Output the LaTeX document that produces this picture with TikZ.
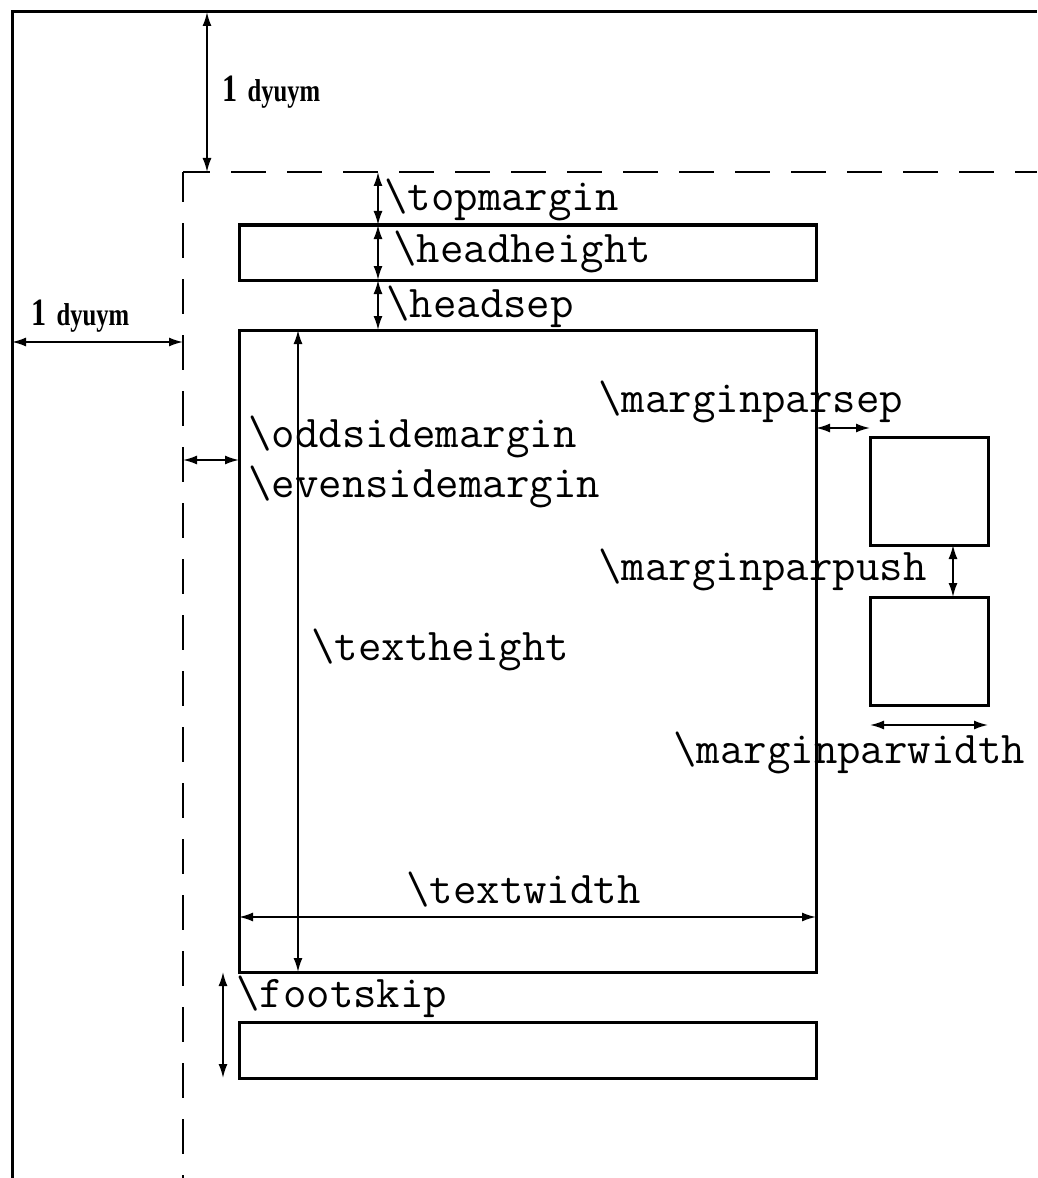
\documentclass[tikz,border=0pt]{standalone}
\usepackage{fontspec}
\newfontfamily\inchfont{Liberation Serif}
\usetikzlibrary{arrows.meta}

\newcommand{\cmdlabel}[1]{\textbackslash #1}
\newcommand{\inchlabel}{\scalebox{0.78}[1]{{\fontsize{22}{22}\selectfont 1}\hspace{2.6mm}dyuym}}

\tikzset{
	pageline/.style={line width=0.6mm},
	marginline/.style={line width=0.45mm, dash pattern=on 7mm off 4.2mm},
	box/.style={draw=black, line width=0.6mm},
	dim/.style={<->, line width=0.35mm, >={Latex[length=2.8mm,width=1.8mm]}},
	lbl/.style={anchor=base west, inner sep=0pt, font=\ttfamily\fontsize{25.9}{26}\selectfont},
	inch/.style={anchor=base west, inner sep=0pt, font=\inchfont\bfseries\fontsize{18}{18}\selectfont}
}

\begin{document}
\begin{tikzpicture}[x=0.2mm,y=-0.2mm]
	\useasboundingbox (0,0) rectangle (1037,1178);
	\fill[white] (0,0) rectangle (1037,1178);

	% paper edge and 1 inch margin
	\draw[pageline] (12,1178) -- (12,12) -- (1037,12);
	\coordinate (corner) at (183,172);
	\draw[marginline, dash phase=1.6mm] (corner) -- (1037,172);
	\draw[marginline, dash phase=1mm] (corner) -- (183,1178);

	% boxes
	\coordinate (head1) at (239,225);  \coordinate (head2) at (816,280);
	\coordinate (body1) at (239,330);  \coordinate (body2) at (816,972);
	\coordinate (foot1) at (239,1022); \coordinate (foot2) at (816,1078);
	\coordinate (mpA1) at (870,437);   \coordinate (mpA2) at (988,545);
	\coordinate (mpB1) at (870,597);   \coordinate (mpB2) at (988,705);
	\draw[box] (head1) rectangle (head2);
	\draw[box] (body1) rectangle (body2);
	\draw[box] (foot1) rectangle (foot2);
	\draw[box] (mpA1) rectangle (mpA2);
	\draw[box] (mpB1) rectangle (mpB2);

	% ends of the dimension arrows
	\coordinate (inchT1) at (207,12);   \coordinate (inchT2) at (207,172);
	\coordinate (inchL1) at (12,342);   \coordinate (inchL2) at (183,342);
	\coordinate (vA) at (378,172); \coordinate (vB) at (378,225);
	\coordinate (vC) at (378,280); \coordinate (vD) at (378,330);
	\coordinate (odd1) at (183,460);    \coordinate (odd2) at (239,460);
	\coordinate (th1) at (298,330);     \coordinate (th2) at (298,972);
	\coordinate (tw1) at (239,917);     \coordinate (tw2) at (816,917);
	\coordinate (fs1) at (223,972);     \coordinate (fs2) at (223,1078);
	\coordinate (sep1) at (816,428);    \coordinate (sep2) at (870,428);
	\coordinate (push1) at (953,545);   \coordinate (push2) at (953,597);
	\coordinate (mw1) at (870,725);     \coordinate (mw2) at (988,725);

	\draw[dim] (inchT1) -- (inchT2);
	\draw[dim] (inchL1) -- (inchL2);
	\draw[dim] (vA) -- (vB);
	\draw[dim] (vB) -- (vC);
	\draw[dim] (vC) -- (vD);
	\draw[dim] (odd1) -- (odd2);
	\draw[dim] (th1) -- (th2);
	\draw[dim] (tw1) -- (tw2);
	\draw[dim] (fs1) -- (fs2);
	\draw[dim] (sep1) -- (sep2);
	\draw[dim] (push1) -- (push2);
	\draw[dim] (mw1) -- (mw2);

	% labels
	\node[inch] (inchtop) at (222,102) {\inchlabel};
	\node[inch] (inchleft) at (31,325) {\inchlabel};
	\node[lbl] (topmargin) at (384,210) {\cmdlabel{topmargin}};
	\node[lbl] (headheight) at (393,262) {\cmdlabel{headheight}};
	\node[lbl] (headsep) at (386,317) {\cmdlabel{headsep}};
	\node[lbl] (oddside) at (248,447) {\cmdlabel{oddsidemargin}};
	\node[lbl] (evenside) at (248,497) {\cmdlabel{evensidemargin}};
	\node[lbl] (mpsep) at (598,412) {\cmdlabel{marginparsep}};
	\node[lbl] (mppush) at (598,580) {\cmdlabel{marginparpush}};
	\node[lbl] (mpwidth) at (673,763) {\cmdlabel{marginparwidth}};
	\node[lbl] (textheight) at (311,660) {\cmdlabel{textheight}};
	\node[lbl] (textwidth) at (406,903) {\cmdlabel{textwidth}};
	\node[lbl] (footskip) at (236,1007) {\cmdlabel{footskip}};
\end{tikzpicture}
\end{document}
